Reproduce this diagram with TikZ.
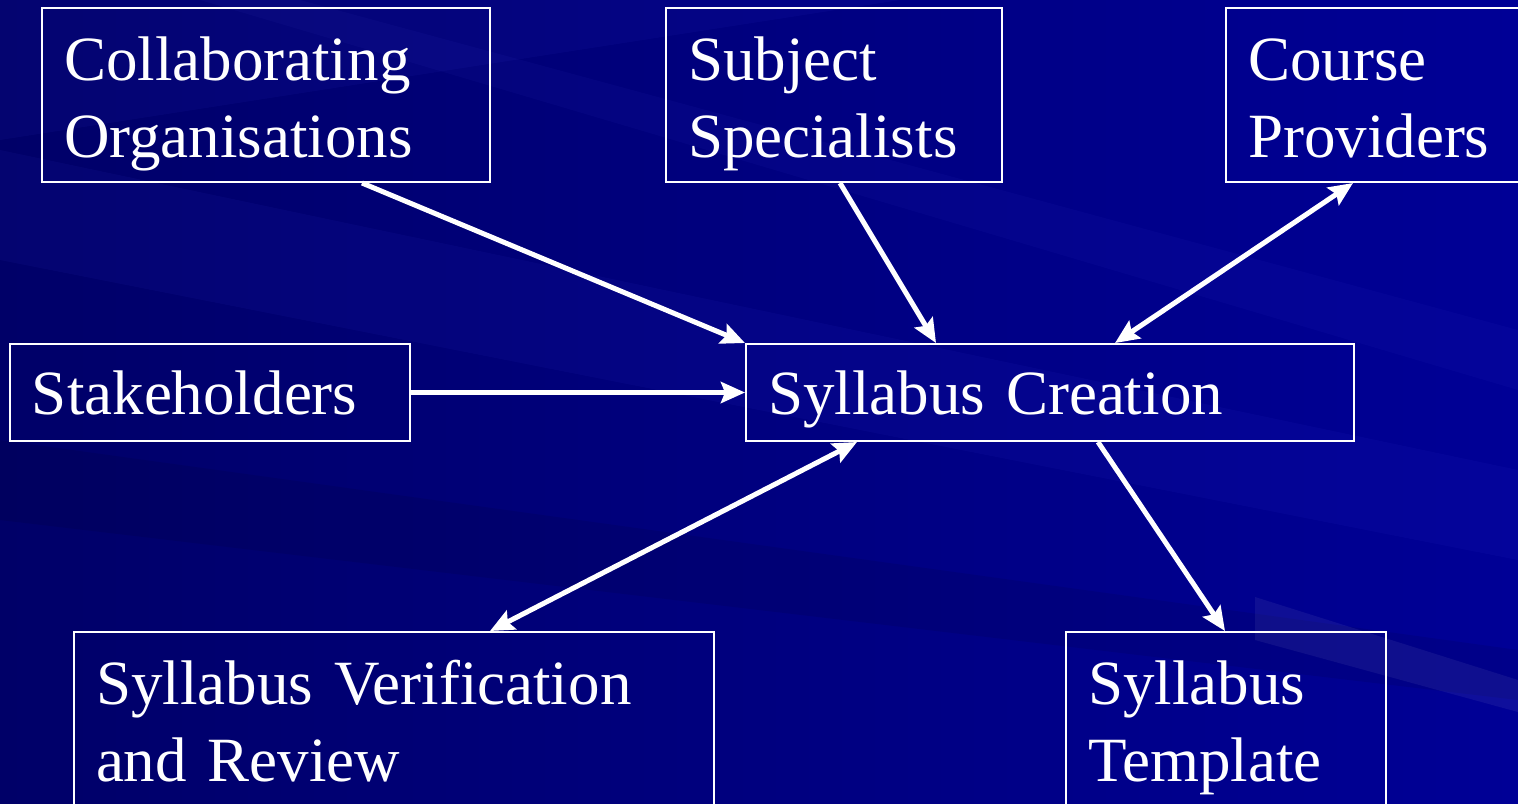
\documentclass[tikz,border=0pt]{standalone}
\usepackage{fontspec}
\setmainfont{Liberation Serif}
\usetikzlibrary{arrows.meta,calc}
\definecolor{bgleft}{RGB}{0,0,104}
\definecolor{bgright}{RGB}{0,0,150}
\definecolor{streak}{RGB}{70,70,230}
\begin{document}
\begin{tikzpicture}[x=0.5pt,y=-0.5pt,
  box/.style={draw=white, line width=1pt, text=white, anchor=north west,
    align=left, inner xsep=11pt, inner ysep=0pt,
    font=\fontsize{31.5}{38.5}\selectfont},
  tallbox/.style={box, minimum height=87pt, text height=36pt, text depth=51pt},
  flatbox/.style={box, minimum height=48.5pt, text height=35pt, text depth=13.5pt},
  tip/.tip={Stealth[length=12pt,width=10.5pt,inset=2pt]},
  conn/.style={white, line width=2.5pt, -tip},
  biconn/.style={white, line width=2.5pt, tip-tip}]
\useasboundingbox (0,0) rectangle (1518,803);
% background
\shade[left color=bgleft, right color=bgright] (0,0) rectangle (1518,803);
\fill[streak, opacity=0.07] (0,150) -- (1518,470) -- (1518,560) -- (0,260) -- cycle;
\fill[streak, opacity=0.06] (300,0) -- (1518,330) -- (1518,390) -- (200,0) -- cycle;
\fill[black, opacity=0.08] (0,440) -- (1518,650) -- (1518,700) -- (0,520) -- cycle;
\fill[streak, opacity=0.07] (0,0) -- (900,0) -- (0,140) -- cycle;
\fill[white, opacity=0.06] (1255,597) -- (1518,680) -- (1518,712) -- (1255,640) -- cycle;
% boxes
\node[tallbox, text width=202pt] (collab) at (41,7) {Collaborating\\Organisations};
\node[tallbox, text width=146pt] (subject) at (665,7) {Subject\\Specialists};
\node[tallbox, text width=128pt] (course) at (1225,7) {Course\\Providers};
\node[flatbox, text width=178pt] (stake) at (9,343) {Stakeholders};
\node[flatbox, text width=282pt] (creation) at (745,343) {Syllabus Creation};
\node[tallbox, text width=298pt] (verif) at (73,631) {Syllabus Verification\\and Review};
\node[tallbox, text width=138pt] (template) at (1065,631) {Syllabus\\Template};
% connectors
\draw[conn] ([xshift=160.5pt]collab.south west) -- (creation.north west);
\draw[conn] ([xshift=87.5pt]subject.south west) -- ([xshift=95.5pt]creation.north west);
\draw[biconn] ([xshift=64pt]course.south west) -- ([xshift=185pt]creation.north west);
\draw[conn] (stake.east) -- (creation.west);
\draw[biconn] ([xshift=56pt]creation.south west) -- ([xshift=208.5pt]verif.north west);
\draw[conn] ([xshift=176.5pt]creation.south west) -- ([xshift=80pt]template.north west);
\end{tikzpicture}
\end{document}
